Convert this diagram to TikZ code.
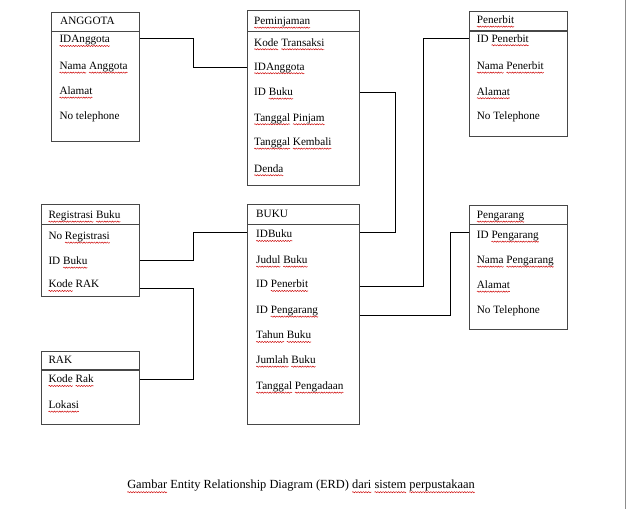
\documentclass[tikz,border=0pt]{standalone}
\usepackage{fontspec}
\setmainfont{Liberation Serif}
\usetikzlibrary{decorations.pathmorphing}
\newsavebox\sqbox
\newlength\sqlen
\newcommand\sqw[1]{\sbox\sqbox{#1}\setlength\sqlen{\wd\sqbox}\rlap{\tikz[overlay,baseline=0pt]\draw[red!80!black,line width=0.45pt,decorate,decoration={snake,amplitude=0.6pt,segment length=2.6pt}] (0pt,-3.2pt) -- (\sqlen,-3.2pt);}\usebox\sqbox}
\begin{document}
\begin{tikzpicture}[x=1pt,y=-1pt,
  ent/.style={draw=black!72, line width=1.1pt, anchor=north west, inner sep=0pt},
  hdr/.style={draw=black!72, line width=1.1pt},
  attr/.style={anchor=west, inner sep=0pt, text height=8pt, text depth=2.5pt, font=\fontsize{11.2}{13}\selectfont},
  conn/.style={draw=black, line width=0.9pt},
  capt/.style={inner sep=0pt, font=\fontsize{12.4}{14}\selectfont}
]
\useasboundingbox (0,0) rectangle (627,509);
\fill[white] (0,0) rectangle (627,509);
\draw[black!45, line width=1pt] (625.5,0) -- (625.5,509);

% ---------- entity boxes ----------
\node[ent, minimum width=88pt, minimum height=129pt] (anggota) at (51,11.7) {};
\node[ent, minimum width=112pt, minimum height=175pt] (pem) at (247.3,10) {};
\node[ent, minimum width=98.3pt, minimum height=124.7pt] (penerbit) at (469,11) {};
\node[ent, minimum width=98pt, minimum height=91.7pt] (reg) at (41,204.3) {};
\node[ent, minimum width=112pt, minimum height=220pt] (buku) at (247.3,204.3) {};
\node[ent, minimum width=98.3pt, minimum height=124pt] (pengarang) at (469,205) {};
\node[ent, minimum width=98pt, minimum height=73.6pt] (rak) at (41,350.7) {};

% header dividers
\draw[hdr] (anggota.west |- 0,31.7) -- (anggota.east |- 0,31.7);
\draw[hdr] (pem.west |- 0,31.7) -- (pem.east |- 0,31.7);
\draw[hdr] (penerbit.west |- 0,31) -- (penerbit.east |- 0,31);
\draw[hdr] (reg.west |- 0,224.3) -- (reg.east |- 0,224.3);
\draw[hdr] (buku.west |- 0,224.3) -- (buku.east |- 0,224.3);
\draw[hdr] (pengarang.west |- 0,224.3) -- (pengarang.east |- 0,224.3);
\draw[hdr] (rak.west |- 0,370) -- (rak.east |- 0,370);

% ---------- ANGGOTA ----------
\node[attr] (aH) at (60,21.7) {ANGGOTA};
\node[attr] (a1) at (59.3,40) {\sqw{IDAnggota}};
\node[attr] (a2) at (59.3,66.7) {\sqw{Nama} \sqw{Anggota}};
\node[attr] (a3) at (59.3,91.7) {\sqw{Alamat}};
\node[attr] (a4) at (59.3,116.7) {No telephone};

% ---------- Peminjaman ----------
\node[attr] (pH) at (254,21.7) {\sqw{Peminjaman}};
\node[attr] (p1) at (254,43.3) {\sqw{Kode} \sqw{Transaksi}};
\node[attr] (p2) at (254,67.3) {\sqw{IDAnggota}};
\node[attr] (p3) at (254,92.7) {ID \sqw{Buku}};
\node[attr] (p4) at (254,118.3) {\sqw{Tanggal} \sqw{Pinjam}};
\node[attr] (p5) at (254,142.7) {\sqw{Tanggal} \sqw{Kembali}};
\node[attr] (p6) at (254,169.3) {\sqw{Denda}};

% ---------- Penerbit ----------
\node[attr] (nH) at (476.7,20.7) {\sqw{Penerbit}};
\node[attr] (n1) at (476.7,39.3) {ID \sqw{Penerbit}};
\node[attr] (n2) at (476.7,66.7) {\sqw{Nama} \sqw{Penerbit}};
\node[attr] (n3) at (476.7,92.3) {\sqw{Alamat}};
\node[attr] (n4) at (476.7,116.7) {No Telephone};

% ---------- Registrasi Buku ----------
\node[attr] (rH) at (48.3,215.7) {\sqw{Registrasi} \sqw{Buku}};
\node[attr] (r1) at (48.3,236.7) {No \sqw{Registrasi}};
\node[attr] (r2) at (48.3,261.7) {ID \sqw{Buku}};
\node[attr] (r3) at (48.3,285) {\sqw{Kode} RAK};

% ---------- BUKU ----------
\node[attr] (bH) at (256,215) {BUKU};
\node[attr] (b1) at (256,235) {\sqw{IDBuku}};
\node[attr] (b2) at (256,260.7) {\sqw{Judul} \sqw{Buku}};
\node[attr] (b3) at (256,285) {ID \sqw{Penerbit}};
\node[attr] (b4) at (256,310.7) {ID \sqw{Pengarang}};
\node[attr] (b5) at (256,336) {\sqw{Tahun} \sqw{Buku}};
\node[attr] (b6) at (256,360.7) {\sqw{Jumlah} \sqw{Buku}};
\node[attr] (b7) at (256,386.7) {\sqw{Tanggal} \sqw{Pengadaan}};

% ---------- Pengarang ----------
\node[attr] (gH) at (476.7,215.7) {\sqw{Pengarang}};
\node[attr] (g1) at (476.7,235.7) {ID \sqw{Pengarang}};
\node[attr] (g2) at (476.7,260.7) {\sqw{Nama} \sqw{Pengarang}};
\node[attr] (g3) at (476.7,285.7) {\sqw{Alamat}};
\node[attr] (g4) at (476.7,310.7) {No Telephone};

% ---------- RAK ----------
\node[attr] (kH) at (48.3,360.7) {RAK};
\node[attr] (k1) at (48.3,380) {\sqw{Kode} \sqw{Rak}};
\node[attr] (k2) at (48.3,405.7) {\sqw{Lokasi}};

% ---------- caption ----------
\node[capt] (cap) at (301,486) {\sqw{Gambar} Entity Relationship Diagram (ERD) \sqw{dari} \sqw{sistem} \sqw{perpustakaan}};

% ---------- connector anchors ----------
\coordinate (ex1) at (193.3,0);
\coordinate (ex2) at (395,0);
\coordinate (ex3) at (423.3,0);
\coordinate (ex4) at (450.7,0);
\path (a1.west) ++(0,-1.7) coordinate (ca1);
\path (b1.west) ++(0,-2.7) coordinate (cb1);
\path (n1.west) ++(0,-1) coordinate (cn1);
\path (b3.west) ++(0,1.7) coordinate (cb3);
\path (g1.west) ++(0,-3.4) coordinate (cg1);
\path (b4.west) ++(0,4.3) coordinate (cb4);
\path (r2.west) ++(0,-1.7) coordinate (cr2);
\path (r3.west) ++(0,3.3) coordinate (cr3);
\path (k1.west) ++(0,-1) coordinate (ck1);

% ---------- connectors ----------
\draw[conn] (ca1 -| anggota.east) -| (ex1 |- p2) -- (p2 -| pem.west);
\draw[conn] (p3 -| pem.east) -| (ex2 |- cb1) -- (cb1 -| buku.east);
\draw[conn] (cn1 -| penerbit.west) -| (ex3 |- cb3) -- (cb3 -| buku.east);
\draw[conn] (cg1 -| pengarang.west) -| (ex4 |- cb4) -- (cb4 -| buku.east);
\draw[conn] (cr2 -| reg.east) -| (ex1 |- cb1) -- (cb1 -| buku.west);
\draw[conn] (cr3 -| reg.east) -| (ex1 |- ck1) -- (ck1 -| rak.east);
\end{tikzpicture}
\end{document}
